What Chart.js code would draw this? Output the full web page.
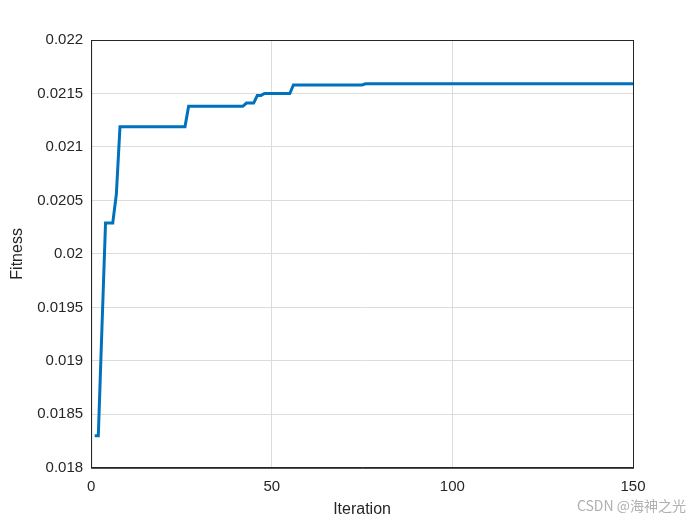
<!DOCTYPE html>
<html><head><meta charset="utf-8">
<script src="https://cdn.jsdelivr.net/npm/chart.js@4"></script>
<style>body{margin:0;background:#fff}#w{position:relative;width:700px;height:525px}
#wm{position:absolute;right:14px;bottom:10px;font:14px "Noto Sans CJK SC","Noto Sans",sans-serif;color:#b0b0b0}</style>
</head><body><div id="w"><canvas id="c" width="700" height="525"></canvas><div id="wm">CSDN @海神之光</div></div>
<script>
const iterations = [];
for (let i = 1; i <= 150; i++) iterations.push(i);
const fitness = [
0.01830,0.01830,0.01930,0.02029,0.02029,0.02029,0.02056,
0.02119,0.02119,0.02119,0.02119,0.02119,0.02119,0.02119,0.02119,0.02119,0.02119,
0.02119,0.02119,0.02119,0.02119,0.02119,0.02119,0.02119,0.02119,0.02119,
0.02138,0.02138,0.02138,0.02138,0.02138,0.02138,0.02138,0.02138,
0.02138,0.02138,0.02138,0.02138,0.02138,0.02138,0.02138,0.02138,
0.02141,0.02141,0.02141,0.02148,0.02148,
0.02150,0.02150,0.02150,0.02150,0.02150,0.02150,0.02150,0.02150,
0.02158,0.02158,0.02158,0.02158,0.02158,0.02158,0.02158,0.02158,0.02158,0.02158,
0.02158,0.02158,0.02158,0.02158,0.02158,0.02158,0.02158,0.02158,0.02158,0.02158,
0.02159,0.02159,0.02159,0.02159,0.02159,0.02159,0.02159,0.02159,0.02159,0.02159,
0.02159,0.02159,0.02159,0.02159,0.02159,0.02159,0.02159,0.02159,0.02159,0.02159,
0.02159,0.02159,0.02159,0.02159,0.02159,0.02159,0.02159,0.02159,0.02159,0.02159,
0.02159,0.02159,0.02159,0.02159,0.02159,0.02159,0.02159,0.02159,0.02159,0.02159,
0.02159,0.02159,0.02159,0.02159,0.02159,0.02159,0.02159,0.02159,0.02159,0.02159,
0.02159,0.02159,0.02159,0.02159,0.02159,0.02159,0.02159,0.02159,0.02159,0.02159,
0.02159,0.02159,0.02159,0.02159,0.02159,0.02159,0.02159,0.02159,0.02159,0.02159,
0.02159,0.02159,0.02159,0.02159,0.02159
];
const xTicks = [0, 50, 100, 150];
const yTicks = [0.018,0.0185,0.019,0.0195,0.02,0.0205,0.021,0.0215,0.022];
const frame = {id:'frame', afterDraw(ch){const a=ch.chartArea,c=ch.ctx;c.save();c.strokeStyle='#262626';c.lineWidth=1;c.strokeRect(a.left+0.5,a.top+0.5,a.right-a.left,a.bottom-a.top);c.restore();}};
Chart.defaults.font.family='"Liberation Sans",Arial,sans-serif';
Chart.defaults.color='#262626';
new Chart(document.getElementById('c'),{
 type:'line',
 data:{datasets:[{data:iterations.map((x,i)=>({x,y:fitness[i]})),borderColor:'#0072BD',borderWidth:3,pointRadius:0,tension:0,fill:false}]},
 options:{responsive:false,animation:false,
  layout:{padding:{left:4,right:67,top:40,bottom:2}},
  plugins:{legend:{display:false},tooltip:{enabled:false}},
  scales:{
   x:{type:'linear',min:0,max:150,afterBuildTicks:s=>{s.ticks=xTicks.map(v=>({value:v}))},
      grid:{color:'#dcdcdc',drawTicks:false},border:{color:'#262626'},
      ticks:{font:{size:15},padding:10},
      title:{display:true,text:'Iteration',font:{size:16},padding:{top:-6}}},
   y:{min:0.018,max:0.022,afterBuildTicks:s=>{s.ticks=yTicks.map(v=>({value:v}))},
      grid:{color:'#dcdcdc',drawTicks:false},border:{color:'#262626'},
      ticks:{font:{size:15},padding:8,callback:v=>String(+v.toFixed(4))},
      title:{display:true,text:'Fitness',font:{size:16},padding:{bottom:2}}}
  }},
 plugins:[frame]
});
</script></body></html>
